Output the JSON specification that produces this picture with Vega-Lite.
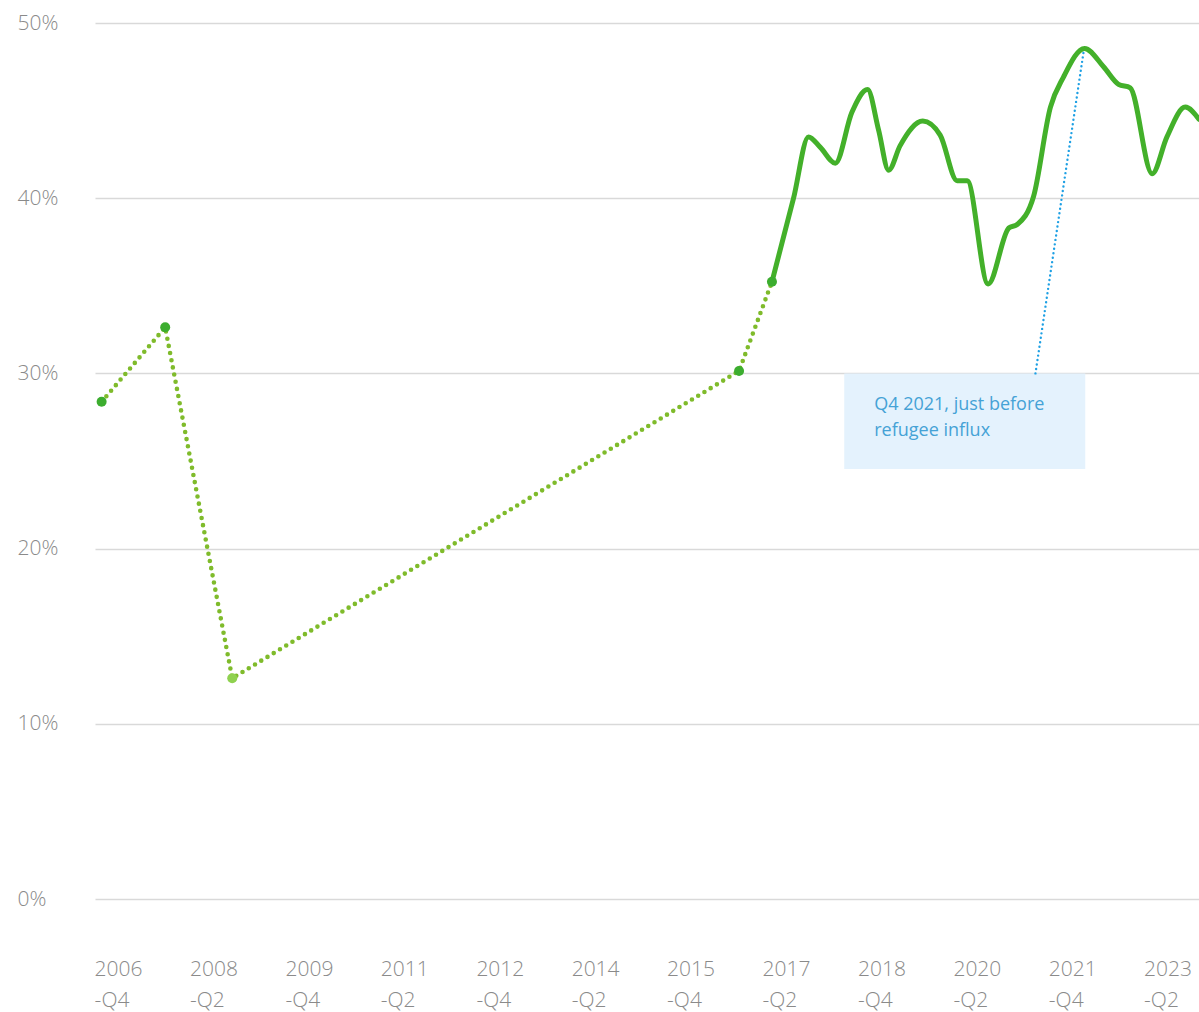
{
  "$schema": "https://vega.github.io/schema/vega-lite/v6.json",
  "width": 1104,
  "height": 876,
  "autosize": {"type": "none"},
  "padding": {"left": 95, "top": 23, "right": 0, "bottom": 113},
  "background": "#ffffff",
  "config": {"view": {"stroke": null}, "font": "Open Sans"},
  "datasets": {
    "dotted": [
      {"date": "2006-10-01", "value": 28.38},
      {"date": "2007-10-01", "value": 32.63},
      {"date": "2008-10-20", "value": 12.6},
      {"date": "2016-10-08", "value": 30.14},
      {"date": "2017-04-15", "value": 35.23}
    ],
    "points": [
      {"date": "2006-10-01", "value": 28.38, "kind": "dark"},
      {"date": "2007-10-01", "value": 32.63, "kind": "dark"},
      {"date": "2008-10-20", "value": 12.6, "kind": "light"},
      {"date": "2016-10-08", "value": 30.14, "kind": "dark"},
      {"date": "2017-04-15", "value": 35.23, "kind": "dark"}
    ],
    "solid": [
      {"date": "2017-04-15", "value": 35.23},
      {"date": "2017-08-17", "value": 40.0},
      {"date": "2017-11-11", "value": 43.5},
      {"date": "2018-01-18", "value": 42.9},
      {"date": "2018-04-14", "value": 42.0},
      {"date": "2018-07-18", "value": 44.9},
      {"date": "2018-10-16", "value": 46.2},
      {"date": "2018-12-18", "value": 43.9},
      {"date": "2019-02-14", "value": 41.6},
      {"date": "2019-04-21", "value": 43.0},
      {"date": "2019-08-29", "value": 44.4},
      {"date": "2019-12-07", "value": 43.6},
      {"date": "2020-03-13", "value": 41.0},
      {"date": "2020-05-10", "value": 41.0},
      {"date": "2020-09-07", "value": 35.1},
      {"date": "2021-01-04", "value": 38.3},
      {"date": "2021-02-21", "value": 38.5},
      {"date": "2021-05-26", "value": 40.1},
      {"date": "2021-08-31", "value": 45.2},
      {"date": "2021-11-13", "value": 46.9},
      {"date": "2022-03-15", "value": 48.55},
      {"date": "2022-07-02", "value": 47.5},
      {"date": "2022-09-26", "value": 46.5},
      {"date": "2022-12-02", "value": 46.3},
      {"date": "2023-04-07", "value": 41.4},
      {"date": "2023-07-01", "value": 43.5},
      {"date": "2023-10-14", "value": 45.2},
      {"date": "2024-01-01", "value": 44.5}
    ],
    "anno": [
      {"date": "2018-06-04", "date2": "2022-03-19", "value": 24.54, "value2": 30.0}
    ],
    "pointer": [
      {"date": "2021-06-06", "date2": "2022-03-10", "value": 30.0, "value2": 48.4}
    ],
    "label": [
      {"date": "2018-11-23", "value": 27.91, "text": ["Q4 2021, just before", "refugee influx"]}
    ]
  },
  "encoding": {
    "x": {
      "field": "date",
      "type": "temporal",
      "scale": {"type": "utc", "domain": [{"year": 2006, "month": 8, "date": 24, "utc": true}, {"year": 2024, "month": 1, "date": 1, "utc": true}]},
      "axis": {
        "title": null,
        "domain": false,
        "ticks": false,
        "tickSize": 0,
        "grid": false,
        "values": [
          {"year": 2006, "month": 10, "date": 1, "utc": true},
          {"year": 2008, "month": 4, "date": 1, "utc": true},
          {"year": 2009, "month": 10, "date": 1, "utc": true},
          {"year": 2011, "month": 4, "date": 1, "utc": true},
          {"year": 2012, "month": 10, "date": 1, "utc": true},
          {"year": 2014, "month": 4, "date": 1, "utc": true},
          {"year": 2015, "month": 10, "date": 1, "utc": true},
          {"year": 2017, "month": 4, "date": 1, "utc": true},
          {"year": 2018, "month": 10, "date": 1, "utc": true},
          {"year": 2020, "month": 4, "date": 1, "utc": true},
          {"year": 2021, "month": 10, "date": 1, "utc": true},
          {"year": 2023, "month": 4, "date": 1, "utc": true}
        ],
        "labelExpr": "[utcFormat(datum.value, '%Y'), '-Q' + utcquarter(datum.value)]",
        "labelAlign": "left",
        "labelBaseline": "top",
        "labelOffset": -7.5,
        "labelPadding": 59,
        "labelLineHeight": 31,
        "labelFlush": false,
        "labelOverlap": false,
        "labelFont": "Open Sans",
        "labelFontWeight": 300,
        "labelFontSize": 21,
        "labelColor": "#8a8a8a"
      }
    },
    "y": {
      "field": "value",
      "type": "quantitative",
      "scale": {"domain": [0, 50], "nice": false},
      "axis": {
        "title": null,
        "domain": false,
        "ticks": false,
        "tickSize": 0,
        "values": [0, 10, 20, 30, 40, 50],
        "labelExpr": "datum.value + '%'",
        "labelAlign": "left",
        "labelBaseline": "middle",
        "labelPadding": 78,
        "labelFont": "Open Sans",
        "labelFontWeight": 300,
        "labelFontSize": 21,
        "labelColor": "#8a8a8a",
        "grid": true,
        "gridColor": "#d9d9d9",
        "gridWidth": 1.6
      }
    }
  },
  "layer": [
    {
      "data": {"name": "anno"},
      "mark": {"type": "rect", "color": "#e4f2fd"},
      "encoding": {
        "x2": {"field": "date2"},
        "y2": {"field": "value2"}
      }
    },
    {
      "data": {"name": "dotted"},
      "mark": {"type": "line", "color": "#7fbb2b", "strokeWidth": 4.6, "strokeDash": [0, 7.3], "strokeCap": "round"},
      "encoding": {}
    },
    {
      "data": {"name": "solid"},
      "mark": {"type": "line", "color": "#43b02a", "strokeWidth": 5, "interpolate": "monotone", "strokeCap": "round", "strokeJoin": "round", "clip": true},
      "encoding": {}
    },
    {
      "data": {"name": "pointer"},
      "mark": {"type": "rule", "color": "#1ea0e4", "strokeWidth": 2.4, "strokeDash": [0, 4.5], "strokeCap": "round"},
      "encoding": {
        "x2": {"field": "date2"},
        "y2": {"field": "value2"}
      }
    },
    {
      "data": {"name": "points"},
      "mark": {"type": "circle", "size": 100, "opacity": 1},
      "encoding": {
        "color": {"field": "kind", "type": "nominal", "scale": {"domain": ["dark", "light"], "range": ["#3cad2f", "#8fd14f"]}, "legend": null}
      }
    },
    {
      "data": {"name": "label"},
      "mark": {"type": "text", "align": "left", "baseline": "alphabetic", "font": "Open Sans", "fontSize": 18, "lineHeight": 25.5, "color": "#45a2d6"},
      "encoding": {
        "text": {"field": "text"}
      }
    }
  ]
}
